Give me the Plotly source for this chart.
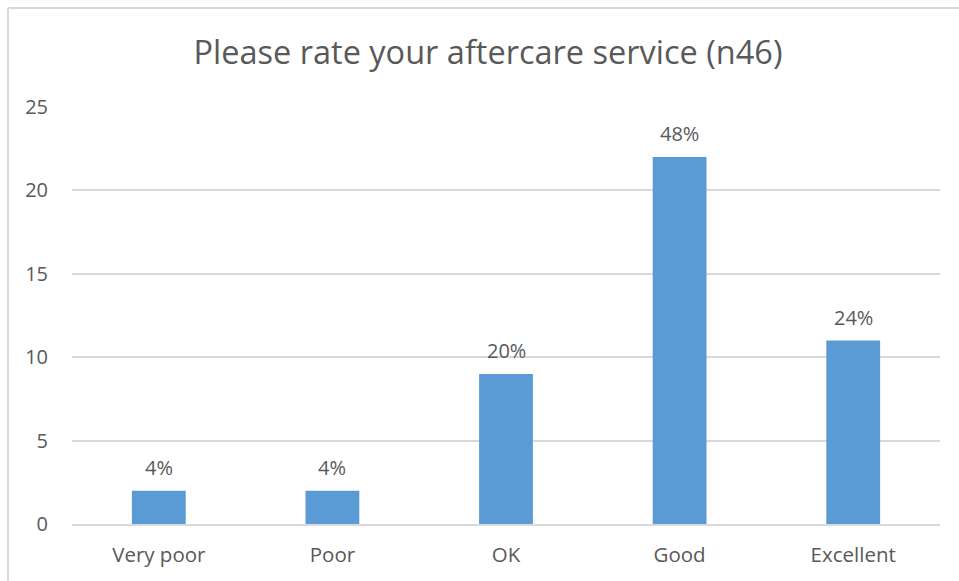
import plotly.graph_objects as go

categories = ["Very poor", "Poor", "OK", "Good", "Excellent"]
counts = [2, 2, 9, 22, 11]
total_responses = 46
y_ticks = [0, 5, 10, 15, 20, 25]

labels = [f"{round(100 * c / total_responses)}%" for c in counts]

font_family = "Open Sans, Noto Sans, sans-serif"
text_grey = "#595959"

fig = go.Figure(
    go.Bar(
        x=categories,
        y=counts,
        marker=dict(color="#5b9bd5", line=dict(width=0)),
        hoverinfo="skip",
    )
)

# percentage labels sitting above each bar
for cat, val, lab in zip(categories, counts, labels):
    fig.add_annotation(
        x=cat, y=val, text=lab, showarrow=False,
        yanchor="bottom", yshift=8,
        font=dict(family=font_family, size=20, color=text_grey),
    )

fig.update_layout(
    width=959, height=581,
    margin=dict(l=72, r=19, t=107, b=57),
    paper_bgcolor="white", plot_bgcolor="white",
    bargap=0.69,
    showlegend=False,
    title=dict(
        text="Please rate your aftercare service (n46)",
        x=488 / 959, xanchor="center", y=1 - 53 / 581, yanchor="middle",
        font=dict(family=font_family, size=32.5, color=text_grey),
    ),
    xaxis=dict(
        showgrid=False, showline=True, linecolor="#d9d9d9", linewidth=1.5,
        ticks="", tickfont=dict(family=font_family, size=20.5, color=text_grey),
        ticklabelstandoff=12,
    ),
    yaxis=dict(
        range=[0, 25], tickvals=y_ticks, showgrid=True, gridcolor="#d9d9d9",
        gridwidth=1.5, zeroline=False, showline=False, ticks="",
        tickfont=dict(family=font_family, size=20, color=text_grey),
        ticklabelstandoff=23,
    ),
)

# chart-area frame along the top and left edges
fig.add_shape(type="line", xref="paper", yref="paper",
              x0=-64 / 868, x1=1 + 19 / 868, y0=1 + 99 / 417, y1=1 + 99 / 417,
              line=dict(color="#d9d9d9", width=2))
fig.add_shape(type="line", xref="paper", yref="paper",
              x0=-64 / 868, x1=-64 / 868, y0=1 + 99 / 417, y1=-57 / 417,
              line=dict(color="#d9d9d9", width=2))

fig.write_html("out.html")
